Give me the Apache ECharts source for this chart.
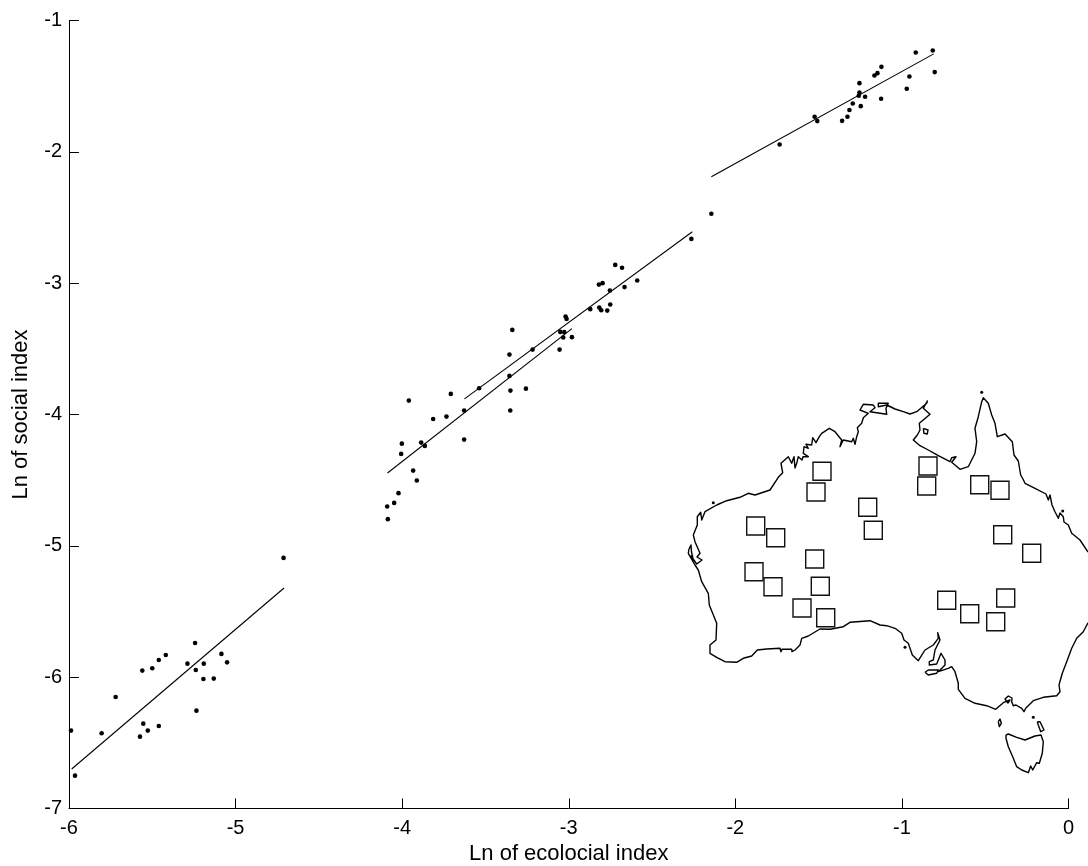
<!DOCTYPE html>
<html><head><meta charset="utf-8">
<style>html,body{margin:0;padding:0;background:#fff}#c{width:1088px;height:866px}</style>
<script src="https://cdn.jsdelivr.net/npm/echarts@6/dist/echarts.min.js"></script>
</head><body><div id="c"></div>
<script>
// Scatter values [ln ecosocial index, ln social index]
const lowGroup = [[-5.988,-6.407],[-5.964,-6.750],[-5.804,-6.427],[-5.720,-6.151],[-5.574,-6.453],[-5.554,-6.354],[-5.527,-6.407],[-5.461,-6.372],[-5.560,-5.950],[-5.500,-5.932],[-5.461,-5.869],[-5.419,-5.831],[-5.289,-5.897],[-5.243,-5.740],[-5.239,-5.945],[-5.235,-6.255],[-5.191,-5.897],[-5.193,-6.014],[-5.131,-6.011],[-5.085,-5.823],[-5.051,-5.887],[-4.712,-5.092]];
const midGroup = [[-4.086,-4.797],[-4.090,-4.701],[-4.048,-4.673],[-4.022,-4.599],[-3.912,-4.503],[-3.934,-4.427],[-4.006,-4.300],[-4.002,-4.222],[-3.960,-3.894],[-3.886,-4.214],[-3.864,-4.239],[-3.814,-4.034],[-3.734,-4.016],[-3.708,-3.843],[-3.628,-3.970],[-3.628,-4.191],[-3.538,-3.800],[-3.356,-3.544],[-3.339,-3.356],[-3.356,-3.706],[-3.350,-3.818],[-3.351,-3.970],[-3.257,-3.803],[-3.217,-3.506],[-3.055,-3.506],[-3.033,-3.414],[-3.051,-3.371],[-3.027,-3.373],[-2.981,-3.411],[-3.019,-3.254],[-3.013,-3.272],[-2.871,-3.198],[-2.817,-3.186],[-2.805,-3.206],[-2.769,-3.209],[-2.751,-3.163],[-2.753,-3.056],[-2.819,-3.011],[-2.797,-3.000],[-2.721,-2.861],[-2.680,-2.883],[-2.665,-3.030],[-2.589,-2.980],[-2.264,-2.663],[-2.144,-2.472]];
const highGroup = [[-1.734,-1.944],[-1.524,-1.733],[-1.508,-1.766],[-1.359,-1.764],[-1.327,-1.733],[-1.315,-1.682],[-1.295,-1.632],[-1.247,-1.652],[-1.221,-1.581],[-1.259,-1.573],[-1.255,-1.548],[-1.255,-1.477],[-1.165,-1.419],[-1.147,-1.401],[-1.123,-1.353],[-1.125,-1.596],[-0.971,-1.520],[-0.955,-1.426],[-0.917,-1.244],[-0.815,-1.228],[-0.803,-1.393]];

// Fitted regression segments
const fitLow = [[-5.984,-6.699],[-4.709,-5.321]];
const fitMidA = [[-4.088,-4.445],[-2.981,-3.346]];
const fitMidB = [[-3.626,-3.881],[-2.258,-2.609]];
const fitHigh = [[-2.144,-2.190],[-0.809,-1.254]];

// Inset map outline (inset map units)
const coast = [[698.3,570],[695,565],[688.3,553.3],[689,549],[691,545],[691.5,552],[693.3,560],[691,556],[696.7,564],[702,560],[697,557],[700,553.3],[695,541.7],[693.3,535],[697.3,525],[697.3,516.7],[700.7,512.3],[701.7,520],[705,511.7],[716.7,505],[726.7,500.7],[740,497.3],[748.3,493.3],[755,495],[770,490],[778.3,477.3],[782.7,472.7],[781,463.3],[788.3,456.7],[791.7,463.3],[794,456.7],[795,468],[796.7,463.3],[798.3,456.7],[802,460],[803,456.7],[808.3,456.7],[803.3,453.3],[804,446.7],[808.3,448.3],[806,444.3],[811.7,445],[812.7,437.7],[816,442.7],[819.3,436.7],[821.7,433.3],[823.3,435],[829.3,428.3],[835,431.7],[841.7,440],[840,446.7],[843.3,440],[851.7,441.7],[853.3,438.3],[855,444.3],[856.7,436.7],[858.3,431.7],[857.3,427.7],[861.7,423.3],[863.3,417.7],[868.3,413.3],[860,410],[863.3,404.3],[873.3,405],[875,407.7],[870,411.7],[868.3,413.3],[886.7,414.3],[886,408.3],[888.3,403.3],[878.3,403.3],[878.3,406.7],[886.7,405],[895,409],[903.3,411.7],[910,414],[916.7,411.7],[926.7,403.3],[927.3,401],[923.3,408.3],[930,414.3],[923.3,420],[919.3,423.3],[920,430],[917.3,435],[913.3,440],[920,445.7],[928.3,450],[938.3,455.7],[950,461.7],[951.7,457.7],[956,456.7],[951.7,462.3],[960,469.3],[968.3,466.7],[975,453.3],[976.7,441.7],[975,428.3],[978.3,416.7],[981.7,401.7],[983.3,397.7],[988.3,403.3],[991.7,415],[995,423.3],[997.3,436.7],[1005,434],[1012.3,441.7],[1014,455],[1018.3,461],[1020.7,475],[1023,479],[1025,483.3],[1035,488.3],[1046,494],[1048.3,500],[1050,495],[1052,505],[1055,511.7],[1058.3,518.3],[1060,513],[1063.3,516.7],[1064,522],[1068.3,525],[1071.7,533.3],[1080,540],[1088,552]];
const coastSouth = [[1088,622.7],[1083.3,631.7],[1076.7,638.3],[1071.7,648.3],[1066.7,661.7],[1062.3,673.3],[1059,685],[1060,691.7],[1056.7,695.7],[1043.3,697.3],[1033.3,700.7],[1025.7,708.3],[1024,711.7],[1021.7,708.3],[1016,705],[1013.3,705.7],[1011.7,701.7],[1012,698],[1008.3,696],[1005,699],[1008,703],[1010,700],[1003.3,702.7],[995.7,709.3],[986.7,705.7],[975,703.3],[965,698.3],[958.3,689.3],[958.3,683.3],[955,671.7],[951.7,666.7],[948.3,668.3],[938.3,671.7],[945,665],[945,660],[941,653.3],[936.7,664],[929.3,665],[929.3,661.7],[933.3,660],[935,650],[940,640],[937.7,632.7],[938.3,638.3],[933.3,645],[925,650],[918.3,660.7],[912.3,655],[908.3,643.3],[904,640],[901.7,633.3],[895,628.3],[886.7,625.7],[880,625],[870,620.7],[850,622.3],[843.3,626.7],[830,629.3],[820,629],[808.3,636],[801.7,638.3],[800,645],[795,650],[792,651.7],[791.7,649.3],[782,649.3],[781,651.7],[780,648.3],[766.7,649],[757.3,650],[751.7,656],[743.3,658.3],[736.7,662.3],[725,661.7],[716.7,657.3],[710,653.3],[710,645],[716,640],[716.7,623.3],[709.3,605],[708.3,593.3],[701.7,581.7],[698.3,570]];
const kangaroo = [[925,672.3],[928.3,670],[938.3,670],[936.7,673.3],[928.3,675],[925,672.3]];
const kingIsland = [[998.3,721.7],[1000,719],[1001.3,723.3],[999.3,726.7],[998,725],[998.3,721.7]];
const flinders = [[1037.3,721.7],[1040,721.7],[1044,730],[1040.7,731.7],[1038.3,725],[1037.3,721.7]];
const tasmania = [[1006,735],[1008.3,734],[1016.7,737.3],[1025,740],[1035,736],[1041,735],[1043.3,741.7],[1042.3,753.3],[1039.3,763.3],[1036.7,762.7],[1032.7,770],[1030.7,766],[1028.3,772.7],[1021.7,770],[1016.7,766.7],[1012.7,756.7],[1008.3,746.7],[1006,738.3],[1006,735]];
const groote = [[923.3,428.3],[928,430],[927.3,434],[924,433.3],[923.3,428.3]];
const islets = [[981.7,392.3],[713.3,502.7],[1062.7,511],[905,647.3],[1033.3,717.3]];

// Study sites on the inset map
const sites = [[822,471.3],[816,492],[867.7,507.3],[873.3,530.3],[928,466],[926.7,486],[979.7,484.7],[1000,490.3],[1002.7,534.7],[1031.7,553.3],[755.7,526],[775.7,537.7],[814.7,559],[754,571.7],[773,586.7],[820.3,586.3],[802,608],[825.7,617.7],[946.7,600.3],[969.7,613.7],[1005.7,598],[995.7,621.7]];

const xName = 'Ln of ecolocial index';
const yName = 'Ln of social index';
const FONT = '"Liberation Sans", Arial, sans-serif';

const axisCommon = {
  type: 'value', interval: 1, scale: false,
  splitLine: {show: false},
  axisLine: {show: true, onZero: false, lineStyle: {color: '#000', width: 1}},
  axisTick: {show: true, inside: true, length: 10, lineStyle: {color: '#000', width: 1}},
  nameLocation: 'middle',
  nameTextStyle: {color: '#000', fontFamily: FONT, fontSize: 22}
};
const labels = margin => ({color: '#000', fontFamily: FONT, fontSize: 20, margin, showMinLabel: true, showMaxLabel: true});
const fit = d => ({type: 'line', xAxisIndex: 0, yAxisIndex: 0, data: d, symbol: 'none', silent: true, clip: false,
  lineStyle: {color: '#000', width: 1.1}});
const pts = d => ({type: 'scatter', xAxisIndex: 0, yAxisIndex: 0, data: d, symbol: 'circle', symbolSize: 4.6, clip: false,
  itemStyle: {color: '#000', opacity: 1}});
const outline = d => ({type: 'line', xAxisIndex: 1, yAxisIndex: 1, data: d, symbol: 'none', silent: true,
  lineStyle: {color: '#000', width: 1.4, join: 'round'}});

const chart = echarts.init(document.getElementById('c'), null, {renderer: 'canvas'});
chart.setOption({
  animation: false,
  backgroundColor: '#fff',
  grid: [
    {left: 69, top: 20.5, width: 999.5, height: 788, containLabel: false, outerBoundsMode: 'none'},
    {left: 680, top: 380, width: 408, height: 400, containLabel: false, outerBoundsMode: 'none'}
  ],
  xAxis: [
    Object.assign({}, axisCommon, {gridIndex: 0, min: -6, max: 0, name: xName, nameGap: 34, axisLabel: labels(10)}),
    {type: 'value', gridIndex: 1, min: 680, max: 1088, show: false}
  ],
  yAxis: [
    Object.assign({}, axisCommon, {gridIndex: 0, min: -7, max: -1, name: yName, nameGap: 37, axisLabel: labels(7)}),
    {type: 'value', gridIndex: 1, min: 380, max: 780, inverse: true, show: false}
  ],
  series: [
    outline(coast), outline(coastSouth), outline(kangaroo), outline(kingIsland),
    outline(flinders), outline(tasmania), outline(groote),
    {type: 'scatter', xAxisIndex: 1, yAxisIndex: 1, data: islets, symbol: 'circle', symbolSize: 3, itemStyle: {color: '#000', opacity: 1}},
    {type: 'scatter', xAxisIndex: 1, yAxisIndex: 1, data: sites, symbol: 'rect', symbolSize: 18,
      itemStyle: {color: 'rgba(0,0,0,0)', borderColor: '#111', borderWidth: 1.4, opacity: 1}},
    fit(fitLow), fit(fitMidA), fit(fitMidB), fit(fitHigh),
    pts(lowGroup), pts(midGroup), pts(highGroup)
  ]
});
</script></body></html>
